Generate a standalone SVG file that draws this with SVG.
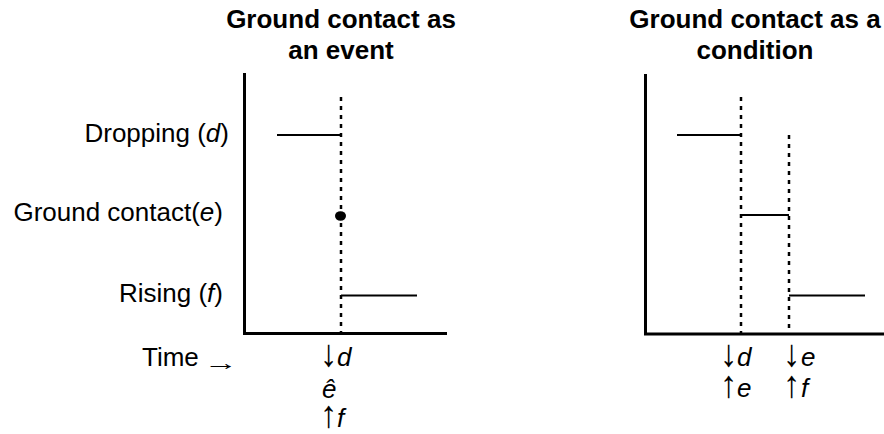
<svg xmlns="http://www.w3.org/2000/svg" width="884" height="434" viewBox="0 0 884 434">
<style>
text{font-family:"Liberation Sans",Arial,sans-serif;fill:#000}
.t{font-size:26px;font-weight:bold;text-anchor:middle}
.l{font-size:26px;text-anchor:end}
.m{font-size:26px}
.i{font-style:italic}
.ax{stroke:#000;stroke-width:3;fill:none}
.dot{stroke:#000;stroke-width:2.5;stroke-dasharray:4 5;fill:none}
.seg{stroke:#000;stroke-width:2;fill:none}
</style>
<rect width="884" height="434" fill="#fff"/>
<g id="title-event">
<text class="t" x="341" y="28">Ground contact as</text>
<text class="t" x="341" y="59">an event</text>
</g>
<g id="title-condition">
<text class="t" x="755" y="28">Ground contact as a</text>
<text class="t" x="755" y="59">condition</text>
</g>
<g id="labels">
<text class="l" x="229" y="142">Dropping (<tspan class="i">d</tspan>)</text>
<text class="l" x="223" y="221">Ground contact(<tspan class="i">e</tspan>)</text>
<text class="l" x="223" y="302">Rising (<tspan class="i">f</tspan>)</text>
<text class="m" x="142" y="366">Time</text>
<text font-size="22" transform="translate(204,370) scale(1.55,1)">→</text>
</g>
<g id="chart-event">
<path class="ax" d="M244.5,73 V333.5 H447"/>
<path class="dot" d="M341,97 V333"/>
<path class="seg" d="M277,135 H341"/>
<ellipse cx="340.5" cy="216" rx="5.5" ry="4.8" fill="#000"/>
<path class="seg" d="M341,295.5 H417"/>
<text class="m" transform="translate(320,366) scale(1.35,1.45)">↓</text>
<text class="m i" x="337" y="366">d</text>
<text class="m i" x="322" y="398">ê</text>
<text class="m" transform="translate(320,427) scale(1.35,1.45)">↑</text>
<text class="m i" x="337" y="427">f</text>
</g>
<g id="chart-condition">
<path class="ax" d="M645.5,74 V334 H884"/>
<path class="dot" d="M741,97 V334"/>
<path class="dot" d="M789,135 V334"/>
<path class="seg" d="M677,135 H741"/>
<path class="seg" d="M741,215 H789"/>
<path class="seg" d="M789,295.5 H865"/>
<text class="m" transform="translate(720,366) scale(1.35,1.45)">↓</text>
<text class="m i" x="737" y="366">d</text>
<text class="m" transform="translate(720,397) scale(1.35,1.45)">↑</text>
<text class="m i" x="737" y="397">e</text>
<text class="m" transform="translate(783,366) scale(1.35,1.45)">↓</text>
<text class="m i" x="801" y="366">e</text>
<text class="m" transform="translate(783,397) scale(1.35,1.45)">↑</text>
<text class="m i" x="801" y="397">f</text>
</g>
</svg>
